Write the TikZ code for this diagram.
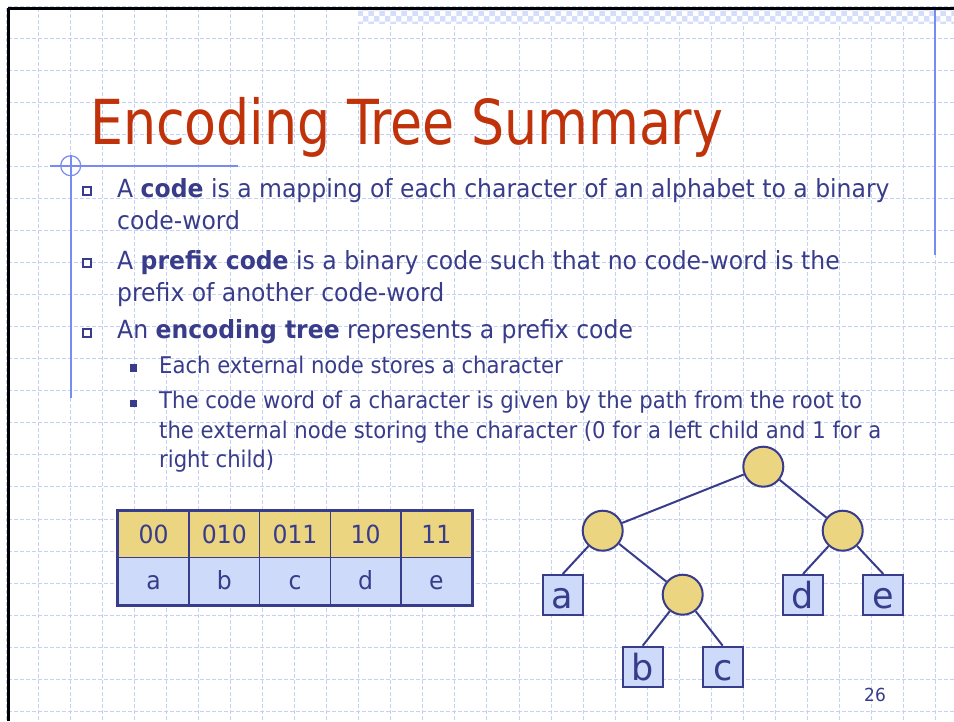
\documentclass[tikz,border=0pt]{standalone}
\usepackage{fontspec}
\setmainfont{DejaVu Sans Condensed}
\newfontfamily\titlefont[FakeStretch=0.935]{DejaVu Sans Condensed}
\newfontfamily\bodyfont[FakeStretch=1.045]{DejaVu Sans Condensed}
\newfontfamily\subfont[FakeStretch=1.023]{DejaVu Sans Condensed}
\newfontfamily\leaffont[FakeStretch=1.08]{DejaVu Sans Condensed}
\usetikzlibrary{patterns}
\definecolor{navy}{RGB}{56,60,138}
\definecolor{titlered}{RGB}{192,50,10}
\definecolor{deco}{RGB}{120,140,240}
\definecolor{gridc}{RGB}{196,210,245}
\definecolor{bandc}{RGB}{212,222,250}
\definecolor{gold}{RGB}{235,213,128}
\definecolor{lblue}{RGB}{205,218,250}
\begin{document}
\begin{tikzpicture}[x=1pt,y=-1pt,
 title/.style={anchor=base west, inner sep=0, text=titlered, font=\titlefont\fontsize{62}{70}\selectfont},
 body/.style={anchor=base west, inner sep=0, text=navy, font=\bodyfont\fontsize{25}{30}\selectfont},
 subbody/.style={anchor=base west, inner sep=0, text=navy, font=\subfont\fontsize{23}{28}\selectfont},
 hbullet/.style={draw=navy, line width=1.5pt, minimum size=8pt, inner sep=0, fill=white},
 fbullet/.style={fill=navy, minimum size=7.5pt, inner sep=0},
 inode/.style={circle, draw=navy, line width=2pt, fill=gold, minimum size=40pt, inner sep=0},
 leaf/.style={rectangle, draw=navy, line width=2pt, fill=lblue, minimum size=40pt, inner sep=0, text=navy, font=\leaffont\fontsize{36}{36}\selectfont, text height=27pt, text depth=0pt},
 edge/.style={draw=navy, line width=2pt},
 cellc/.style={draw=navy, line width=1.5pt, minimum width=70.68pt, inner sep=0, text=navy, font=\bodyfont\fontsize{25}{25}\selectfont, text height=18pt, text depth=0pt},
 toprow/.style={cellc, fill=gold, minimum height=45.6pt},
 botrow/.style={cellc, fill=lblue, minimum height=47pt},
 gridline/.style={draw=gridc, line width=0.8pt, dash pattern=on 4pt off 2pt},
 decoline/.style={draw=deco, line width=2pt},
]
\useasboundingbox (0,0) rectangle (954,721);
\fill[white] (0,0) rectangle (954,721);
% grid
\foreach \k in {0,...,29} {
  \draw[gridline] ({6.26+32.04*\k},8) -- ({6.26+32.04*\k},721);
}
\foreach \k in {0,...,22} {
  \draw[gridline] (8,{6.26+32.04*\k}) -- (954,{6.26+32.04*\k});
}
% top band
\fill[bandc] (358,10) rectangle (954,24);
\fill[pattern=checkerboard, pattern color=white] (358,10) rectangle (954,24);
% borders
\draw[black, line width=3pt] (8,8) -- (954,8);
\draw[black, line width=3pt] (8,8) -- (8,721);
% decorations
\draw[decoline] (935,10) -- (935,255);
\draw[decoline] (70.7,155) -- (70.7,398);
\draw[draw=deco, line width=1.5pt] (50,166) -- (238,166);
\draw[draw=deco, line width=1.2pt] (70.7,165.7) circle[radius=10pt];
% title
\node[title] (ttl) at (90,144) {Encoding Tree Summary};
% bullets
\node[hbullet] (b1) at (87,191) {};
\node[body] (l1) at (117,197) {A \textbf{code} is a mapping of each character of an alphabet to a binary};
\node[body] (l2) at (117,229.5) {code-word};
\node[hbullet] (b2) at (87,263) {};
\node[body] (l3) at (117,269.3) {A \textbf{prefix code} is a binary code such that no code-word is the};
\node[body] (l4) at (117,301.7) {prefix of another code-word};
\node[hbullet] (b3) at (87,333) {};
\node[body] (l5) at (117,338.5) {An \textbf{encoding tree} represents a prefix code};
\node[fbullet] (s1) at (133.5,368) {};
\node[subbody] (m1) at (159,373.5) {Each external node stores a character};
\node[fbullet] (s2) at (133.5,403.5) {};
\node[subbody] (m2) at (159,408) {The code word of a character is given by the path from the root to};
\node[subbody] (m3) at (159,438) {the external node storing the character (0 for a left child and 1 for a};
\node[subbody] (m4) at (159,467) {right child)};
% table
\node[toprow] (t1) at (153.64,534.5) {00};
\node[toprow] (t2) at (224.32,534.5) {010};
\node[toprow] (t3) at (295.0,534.5) {011};
\node[toprow] (t4) at (365.68,534.5) {10};
\node[toprow] (t5) at (436.36,534.5) {11};
\node[botrow] (u1) at (153.64,580.8) {a};
\node[botrow] (u2) at (224.32,580.8) {b};
\node[botrow] (u3) at (295.0,580.8) {c};
\node[botrow] (u4) at (365.68,580.8) {d};
\node[botrow] (u5) at (436.36,580.8) {e};
\draw[navy, line width=3pt] (t1.north west) rectangle (u5.south east);
% tree
\node[inode] (root) at (763.3,466.7) {};
\node[inode] (L) at (602.7,530.7) {};
\node[inode] (R) at (842.7,530.7) {};
\node[inode] (M) at (682.7,594.7) {};
\node[leaf] (a) at (562.7,595) {a};
\node[leaf] (d) at (803.0,595) {d};
\node[leaf] (e) at (883.3,595) {e};
\node[leaf] (b) at (642.7,666.7) {b};
\node[leaf] (c) at (722.7,666.7) {c};
\draw[edge] (root) -- (L);
\draw[edge] (root) -- (R);
\draw[edge] (L) -- (a.north);
\draw[edge] (L) -- (M);
\draw[edge] (M) -- (b.north);
\draw[edge] (M) -- (c.north);
\draw[edge] (R) -- (d.north);
\draw[edge] (R) -- (e.north);
% page number
\node[anchor=base, inner sep=0, text=navy, font=\bodyfont\fontsize{18}{18}\selectfont] (pg) at (875,701.7) {26};
\end{tikzpicture}
\end{document}
